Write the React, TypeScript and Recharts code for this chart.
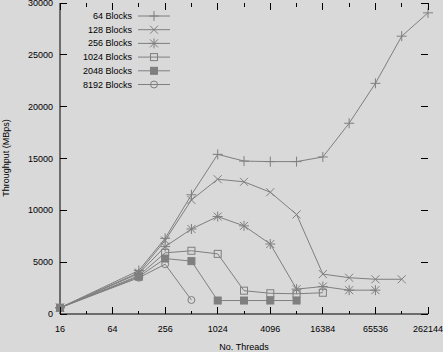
import React from "react";
import { LineChart, Line, XAxis, YAxis } from "recharts";

// thread counts (x) and throughput in MBps per block count
const threads = [16, 128, 256, 512, 1024, 2048, 4096, 8192, 16384, 32768, 65536, 131072, 262144];
const blocks64 = [600, 4200, 7300, 11500, 15400, 14750, 14700, 14700, 15150, 18400, 22250, 26800, 29050];
const blocks128 = [600, 4000, 7100, 11000, 13000, 12750, 11750, 9600, 3850, 3500, 3350, 3350];
const blocks256 = [600, 3900, 6500, 8200, 9400, 8500, 6750, 2400, 2650, 2300, 2300];
const blocks1024 = [600, 3700, 5900, 6100, 5800, 2250, 2000, 1950, 2050];
const blocks2048 = [600, 3600, 5350, 5100, 1300, 1300, 1300, 1300];
const blocks8192 = [600, 3500, 4800, 1350];

const xTicks = [16, 32, 64, 128, 256, 512, 1024, 2048, 4096, 8192, 16384, 32768, 65536, 131072, 262144];
const xLabels = [16, 64, 256, 1024, 4096, 16384, 65536, 262144];
const yTicks = [0, 5000, 10000, 15000, 20000, 25000, 30000];

const xTitle = "No. Threads";
const yTitle = "Throughput (MBps)";

type Shape = "plus" | "cross" | "star" | "square" | "fsquare" | "circle";

const series: { key: string; name: string; shape: Shape; values: number[] }[] = [
  { key: "b64", name: "64 Blocks", shape: "plus", values: blocks64 },
  { key: "b128", name: "128 Blocks", shape: "cross", values: blocks128 },
  { key: "b256", name: "256 Blocks", shape: "star", values: blocks256 },
  { key: "b1024", name: "1024 Blocks", shape: "square", values: blocks1024 },
  { key: "b2048", name: "2048 Blocks", shape: "fsquare", values: blocks2048 },
  { key: "b8192", name: "8192 Blocks", shape: "circle", values: blocks8192 },
];

const data = threads.map((t, i) => {
  const row: Record<string, number | undefined> = { threads: t };
  series.forEach((s) => {
    row[s.key] = s.values[i];
  });
  return row;
});

const W = 443;
const H = 352;
const TOP = 3;
const BOTTOM = 314;
const LEFT = 60;
const RIGHT = 428;
const GRAY = "#7f7f7f";
const BG = "#d9d9d9";
const FONT = "'Liberation Sans', Arial, sans-serif";

const Marker = ({ shape, x, y }: { shape: Shape; x: number; y: number }) => {
  const p = 5;
  const c = 4;
  switch (shape) {
    case "plus":
      return (
        <g stroke={GRAY} strokeWidth={1}>
          <line x1={x - p} x2={x + p} y1={y} y2={y} />
          <line x1={x} x2={x} y1={y - p} y2={y + p} />
        </g>
      );
    case "cross":
      return (
        <g stroke={GRAY} strokeWidth={1}>
          <line x1={x - c} x2={x + c} y1={y - c} y2={y + c} />
          <line x1={x - c} x2={x + c} y1={y + c} y2={y - c} />
        </g>
      );
    case "star":
      return (
        <g stroke={GRAY} strokeWidth={1}>
          <line x1={x - p} x2={x + p} y1={y} y2={y} />
          <line x1={x} x2={x} y1={y - p} y2={y + p} />
          <line x1={x - c} x2={x + c} y1={y - c} y2={y + c} />
          <line x1={x - c} x2={x + c} y1={y + c} y2={y - c} />
        </g>
      );
    case "square":
      return <rect x={x - 3.5} y={y - 3.5} width={7} height={7} fill="none" stroke={GRAY} strokeWidth={1} />;
    case "fsquare":
      return <rect x={x - 3.5} y={y - 3.5} width={7} height={7} fill={GRAY} stroke={GRAY} strokeWidth={1} />;
    default:
      return <circle cx={x} cy={y} r={3.5} fill="none" stroke={GRAY} strokeWidth={1} />;
  }
};

const makeDot = (shape: Shape) => (props: any) => {
  const { cx, cy, value, index } = props;
  if (value == null || cx == null || cy == null || isNaN(cy)) return <g key={index} />;
  return (
    <g key={index}>
      <Marker shape={shape} x={cx} y={cy} />
    </g>
  );
};

const XTick = (props: any) => {
  const { x, payload } = props;
  const v = payload.value;
  const major = xLabels.includes(v);
  const len = major ? 7 : 3.5;
  return (
    <g shapeRendering="crispEdges">
      <line x1={x} x2={x} y1={BOTTOM} y2={BOTTOM - len} stroke="#000" />
      <line x1={x} x2={x} y1={TOP} y2={TOP + len} stroke="#000" />
      {major && (
        <text x={x} y={329} textAnchor="middle" dominantBaseline="central" fontSize={9} fontFamily={FONT} fill="#000">
          {v}
        </text>
      )}
    </g>
  );
};

const YTick = (props: any) => {
  const { y, payload } = props;
  return (
    <g shapeRendering="crispEdges">
      <line x1={LEFT} x2={LEFT + 7} y1={y} y2={y} stroke="#000" />
      <line x1={RIGHT} x2={RIGHT - 7} y1={y} y2={y} stroke="#000" />
      <text x={53} y={y} textAnchor="end" dominantBaseline="central" fontSize={9} fontFamily={FONT} fill="#000">
        {payload.value}
      </text>
    </g>
  );
};

const Overlay = () => (
  <svg width={W} height={H} style={{ position: "absolute", left: 0, top: 0, pointerEvents: "none" }}>
    {series.map((s, i) => {
      const y = 16 + i * 13.7;
      return (
        <g key={s.key}>
          <text x={132} y={y} textAnchor="end" dominantBaseline="central" fontSize={9} fontFamily={FONT} fill="#000">
            {s.name}
          </text>
          <line x1={138} x2={170} y1={y} y2={y} stroke={GRAY} strokeWidth={1} />
          <Marker shape={s.shape} x={154} y={y} />
        </g>
      );
    })}
    <text x={244} y={347} textAnchor="middle" dominantBaseline="central" fontSize={9} fontFamily={FONT} fill="#000">
      {xTitle}
    </text>
    <text
      x={6}
      y={158}
      transform="rotate(-90 6 158)"
      textAnchor="middle"
      dominantBaseline="central"
      fontSize={9}
      fontFamily={FONT}
      fill="#000"
    >
      {yTitle}
    </text>
  </svg>
);

export default function App() {
  return (
    <div style={{ position: "relative", width: W, height: H, background: BG }}>
      <style>{"html,body{margin:0;padding:0;background:" + BG + "}"}</style>
      <LineChart width={W} height={H} data={data} margin={{ top: TOP, right: W - RIGHT, bottom: 0, left: 0 }}>
        <XAxis
          dataKey="threads"
          type="number"
          scale="log"
          domain={[16, 262144]}
          ticks={xTicks}
          interval={0}
          height={H - BOTTOM}
          tick={<XTick />}
          tickLine={false}
          axisLine={{ stroke: "#000" }}
        />
        <XAxis
          xAxisId="top"
          orientation="top"
          type="number"
          scale="log"
          domain={[16, 262144]}
          height={0}
          tick={false}
          tickLine={false}
          axisLine={{ stroke: "#000" }}
        />
        <YAxis
          type="number"
          domain={[0, 30000]}
          ticks={yTicks}
          interval={0}
          width={LEFT}
          tick={<YTick />}
          tickLine={false}
          axisLine={{ stroke: "#000" }}
        />
        <YAxis
          yAxisId="right"
          orientation="right"
          type="number"
          domain={[0, 30000]}
          width={0}
          tick={false}
          tickLine={false}
          axisLine={{ stroke: "#000" }}
        />
        {series.map((s) => (
          <Line
            key={s.key}
            dataKey={s.key}
            name={s.name}
            stroke={GRAY}
            strokeWidth={1}
            type="linear"
            dot={makeDot(s.shape)}
            activeDot={false}
            isAnimationActive={false}
          />
        ))}
      </LineChart>
      <Overlay />
    </div>
  );
}
